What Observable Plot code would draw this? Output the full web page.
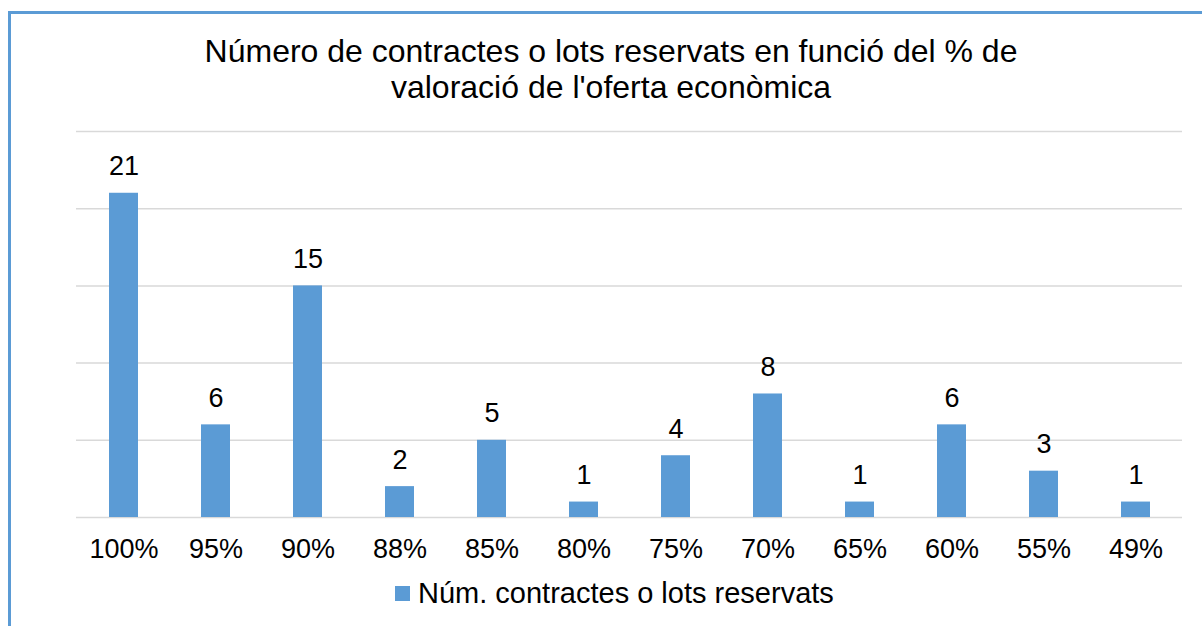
<!DOCTYPE html>
<html>
<head>
<meta charset="utf-8">
<script src="https://cdn.jsdelivr.net/npm/d3@7"></script>
<script src="https://cdn.jsdelivr.net/npm/@observablehq/plot@0.6"></script>
<style>
  html, body { margin: 0; padding: 0; background: #fff; }
  #wrap { position: relative; width: 1202px; height: 626px; overflow: hidden; background: #fff;
          font-family: "Liberation Sans", Arial, sans-serif; color: #000; }
  #frame { position: absolute; left: 8px; top: 11px; width: 1400px; height: 800px;
           border: 3px solid #5b9bd5; box-sizing: border-box; }
  #title { position: absolute; left: 0; top: 33px; width: 1222px; text-align: center;
           font-size: 32px; line-height: 36px; }
  #chart { position: absolute; left: 0; top: 110px; }
  #legend { position: absolute; left: 395px; top: 577px; font-size: 29px; line-height: 32px;
            white-space: nowrap; display: flex; align-items: center; }
  #legend .sw { display: inline-block; width: 15px; height: 15px; background: #5b9bd5; margin-right: 8px; }
</style>
</head>
<body>
<div id="wrap">
  <div id="frame"></div>
  <div id="title">Número de contractes o lots reservats en funció del % de<br>valoració de l'oferta econòmica</div>
  <div id="chart"></div>
  <div id="legend"><span class="sw"></span><span>Núm. contractes o lots reservats</span></div>
</div>
<script>
const categories = ["100%", "95%", "90%", "88%", "85%", "80%", "75%", "70%", "65%", "60%", "55%", "49%"];
const values = [21, 6, 15, 2, 5, 1, 4, 8, 1, 6, 3, 1];
const yTicks = [0, 5, 10, 15, 20, 25];
const seriesName = "Núm. contractes o lots reservats";

const data = categories.map((c, i) => ({category: c, value: values[i]}));

const chart = Plot.plot({
  width: 1202,
  height: 470,
  marginTop: 21,
  marginBottom: 63,
  marginLeft: 76,
  marginRight: 20,
  style: {fontFamily: "'Liberation Sans', Arial, sans-serif", color: "#000", background: "transparent"},
  x: {domain: categories, paddingInner: 0.685, paddingOuter: 0.3425, label: null},
  y: {domain: [0, 25], label: null},
  marks: [
    Plot.gridY(yTicks, {stroke: "#d9d9d9", strokeOpacity: 1, strokeWidth: 1.5}),
    Plot.barY(data, {x: "category", y: "value", fill: "#5b9bd5"}),
    Plot.text(data, {x: "category", y: "value", text: d => String(d.value), dy: -18,
                     lineAnchor: "bottom", fontSize: 27, fill: "#000"}),
    Plot.axisX({tickSize: 0, tickPadding: 21, fontSize: 27, fill: "#000"}),
    Plot.axisY({ticks: [], tickSize: 0, label: null})
  ]
});
document.getElementById("chart").appendChild(chart);
</script>
</body>
</html>
